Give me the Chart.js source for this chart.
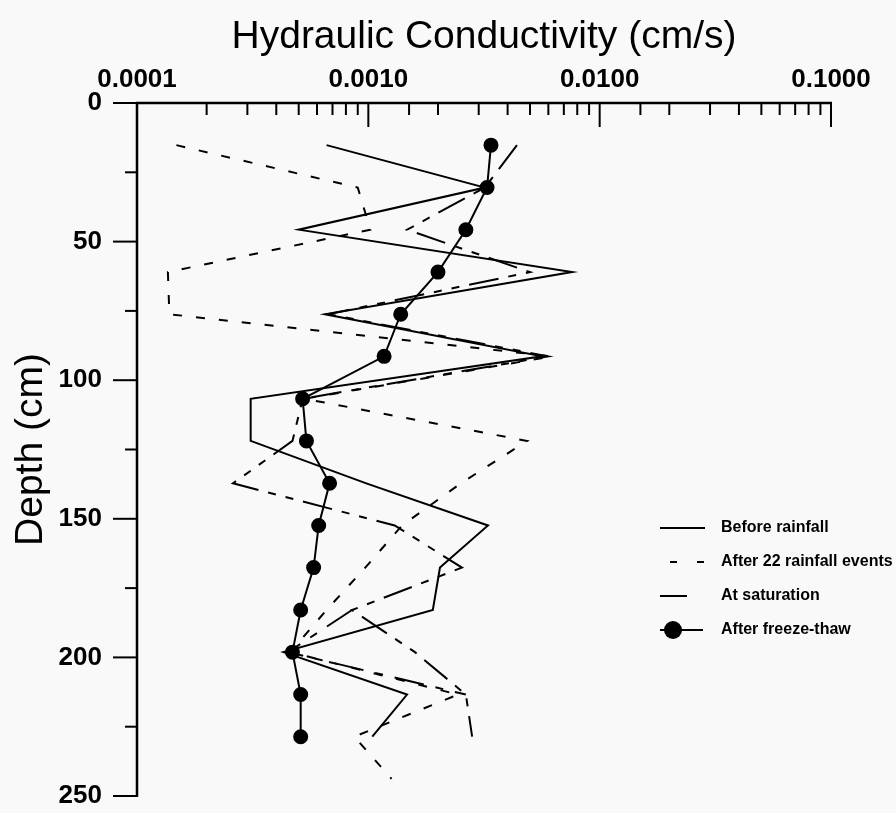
<!DOCTYPE html>
<html>
<head>
<meta charset="utf-8">
<title>Hydraulic Conductivity vs Depth</title>
<script src="https://cdn.jsdelivr.net/npm/chart.js@4.4.1/dist/chart.umd.min.js"></script>
<style>
  html, body { margin: 0; padding: 0; background: #f9f9f9; }
  #wrap { width: 896px; height: 813px; }
</style>
</head>
<body>
<div id="wrap"><canvas id="chart" width="896" height="813"></canvas></div>
<script>
// depths (cm), one sample every 15.24 cm (6 in)
const depths = [15.2, 30.5, 45.7, 61.0, 76.2, 91.4, 106.7, 121.9, 137.2, 152.4, 167.6, 182.9, 198.1, 213.4, 228.6];
const depthsAfterRain = [15.2, 30.5, 45.7, 61.0, 76.2, 91.4, 106.7, 121.9, 137.2, 152.4, 167.6, 182.9, 198.1, 213.4, 228.6, 243.8];

// hydraulic conductivity (cm/s)
const beforeRainfall = [0.00066, 0.00319, 0.00050, 0.00760, 0.00065, 0.00564, 0.00031, 0.00031, 0.00098, 0.00329, 0.00204, 0.00190, 0.00043, 0.00147, 0.00104];
const afterRainfall = [0.000148, 0.00090, 0.00102, 0.000136, 0.000138, 0.00623, 0.00053, 0.00486, 0.00251, 0.00140, 0.00097, 0.00066, 0.00046, 0.00244, 0.00087, 0.00126];
const atSaturation = [0.00439, 0.00319, 0.00147, 0.00500, 0.00067, 0.00599, 0.00052, 0.00047, 0.00026, 0.00130, 0.00254, 0.00085, 0.00159, 0.00264, 0.00281];
const afterFreezeThaw = [0.00339, 0.00326, 0.00264, 0.00200, 0.00138, 0.00117, 0.00052, 0.00054, 0.00068, 0.00061, 0.00058, 0.00051, 0.00047, 0.00051, 0.00051];
// second saturation trace around 200 cm (not in legend)
const saturationRepeatDepths = [182.9, 198.1, 213.4];
const saturationRepeat = [0.00085, 0.00045, 0.00264];

const xTicksShown = [0.0001, 0.001, 0.01, 0.1];
const yTicksShown = [0, 50, 100, 150, 200, 250];

const pts = (xs, ds) => xs.map((v, i) => ({ x: v, y: ds[i] }));
const isDecade = v => Math.abs(Math.log10(v) - Math.round(Math.log10(v))) < 1e-6;

const FONT = "'Liberation Sans', Arial, sans-serif";

const axisLines = {
    id: 'axisLines',
    afterDraw(chart) {
        const { ctx, chartArea: a, scales: { x, y } } = chart;
        ctx.save();
        ctx.strokeStyle = '#000';
        ctx.lineWidth = 2.5;
        ctx.beginPath();
        ctx.moveTo(a.left, a.bottom + 1);
        ctx.lineTo(a.left, a.top);
        ctx.lineTo(a.right + 1, a.top);
        ctx.stroke();

        ctx.lineWidth = 2;
        x.ticks.forEach(t => {
            const px = x.getPixelForValue(t.value);
            const len = isDecade(t.value) ? 24 : 12;
            ctx.beginPath();
            ctx.moveTo(px, a.top);
            ctx.lineTo(px, a.top + len);
            ctx.stroke();
        });
        y.ticks.forEach(t => {
            const py = y.getPixelForValue(t.value);
            const len = t.value % 50 === 0 ? 24 : 12;
            ctx.beginPath();
            ctx.moveTo(a.left - len, py);
            ctx.lineTo(a.left, py);
            ctx.stroke();
        });
        ctx.restore();
    }
};

const boxLegend = {
    id: 'boxLegend',
    afterDraw(chart) {
        const ctx = chart.ctx;
        let row = 0;
        ctx.save();
        ctx.font = 'bold 16px ' + FONT;
        ctx.textBaseline = 'middle';
        ctx.fillStyle = '#000';
        chart.data.datasets.forEach(ds => {
            if (ds.noLegend) return;
            const ly = 528 + row * 34;
            ctx.strokeStyle = '#000';
            ctx.lineWidth = 2;
            ctx.setLineDash(ds.legendDash || []);
            ctx.beginPath();
            ctx.moveTo(ds.legendFrom, ly);
            ctx.lineTo(ds.legendTo, ly);
            ctx.stroke();
            ctx.setLineDash([]);
            if (ds.pointRadius > 0) {
                ctx.beginPath();
                ctx.arc(673, ly, 9, 0, Math.PI * 2);
                ctx.fill();
            }
            ctx.fillText(ds.label, 721, ly);
            row++;
        });
        ctx.restore();
    }
};

new Chart(document.getElementById('chart'), {
    type: 'scatter',
    data: {
        datasets: [
            {
                label: 'Before rainfall',
                data: pts(beforeRainfall, depths),
                showLine: true,
                borderColor: '#000',
                borderWidth: 2,
                pointRadius: 0,
                legendFrom: 660, legendTo: 705
            },
            {
                label: 'After 22 rainfall events',
                data: pts(afterRainfall, depthsAfterRain),
                showLine: true,
                borderColor: '#000',
                borderWidth: 2,
                borderDash: [9, 14],
                pointRadius: 0,
                legendFrom: 670, legendTo: 704, legendDash: [7, 20]
            },
            {
                label: 'At saturation',
                data: pts(atSaturation, depths),
                showLine: true,
                borderColor: '#000',
                borderWidth: 2,
                borderDash: [30, 10, 8, 10, 8, 10],
                pointRadius: 0,
                legendFrom: 660, legendTo: 687
            },
            {
                label: 'After freeze-thaw',
                data: pts(afterFreezeThaw, depths),
                showLine: true,
                borderColor: '#000',
                backgroundColor: '#000',
                borderWidth: 2,
                pointRadius: 6.5,
                pointHoverRadius: 6.5,
                legendFrom: 660, legendTo: 703
            },
            {
                label: 'At saturation (repeat)',
                data: pts(saturationRepeat, saturationRepeatDepths),
                showLine: true,
                borderColor: '#000',
                borderWidth: 2,
                borderDash: [30, 12, 8, 12],
                pointRadius: 0,
                noLegend: true
            }
        ]
    },
    options: {
        responsive: false,
        animation: false,
        devicePixelRatio: 1,
        layout: { padding: { left: 0, top: 0, right: 65, bottom: 17 } },
        elements: { line: { tension: 0 } },
        plugins: {
            legend: { display: false },
            tooltip: { enabled: false }
        },
        scales: {
            x: {
                type: 'logarithmic',
                position: 'top',
                min: 0.0001,
                max: 0.1,
                grid: { display: false, drawTicks: false },
                border: { display: false },
                ticks: {
                    autoSkip: false,
                    maxRotation: 0,
                    padding: 8,
                    color: '#000',
                    font: { family: FONT, size: 26, weight: 'bold' },
                    callback: v => (isDecade(v) && xTicksShown.some(t => Math.abs(t - v) / t < 1e-6)) ? Number(v).toFixed(4) : ''
                },
                title: {
                    display: true,
                    text: 'Hydraulic Conductivity (cm/s)',
                    color: '#000',
                    font: { family: FONT, size: 39 },
                    padding: { top: 14, bottom: 0 }
                },
                afterFit: s => { s.height = 103; }
            },
            y: {
                type: 'linear',
                reverse: true,
                min: 0,
                max: 250,
                grid: { display: false, drawTicks: false },
                border: { display: false },
                ticks: {
                    stepSize: 25,
                    padding: 35,
                    color: '#000',
                    font: { family: FONT, size: 26, weight: 'bold' },
                    callback: v => yTicksShown.includes(v) ? String(v) : ''
                },
                title: {
                    display: true,
                    text: 'Depth (cm)',
                    color: '#000',
                    font: { family: FONT, size: 39 },
                    padding: { top: 8, bottom: 0 }
                },
                afterFit: s => {
                    s.width = 137;
                    s.paddingTop = 0;
                    s.paddingBottom = 0;
                }
            }
        }
    },
    plugins: [axisLines, boxLegend]
});
</script>
</body>
</html>
